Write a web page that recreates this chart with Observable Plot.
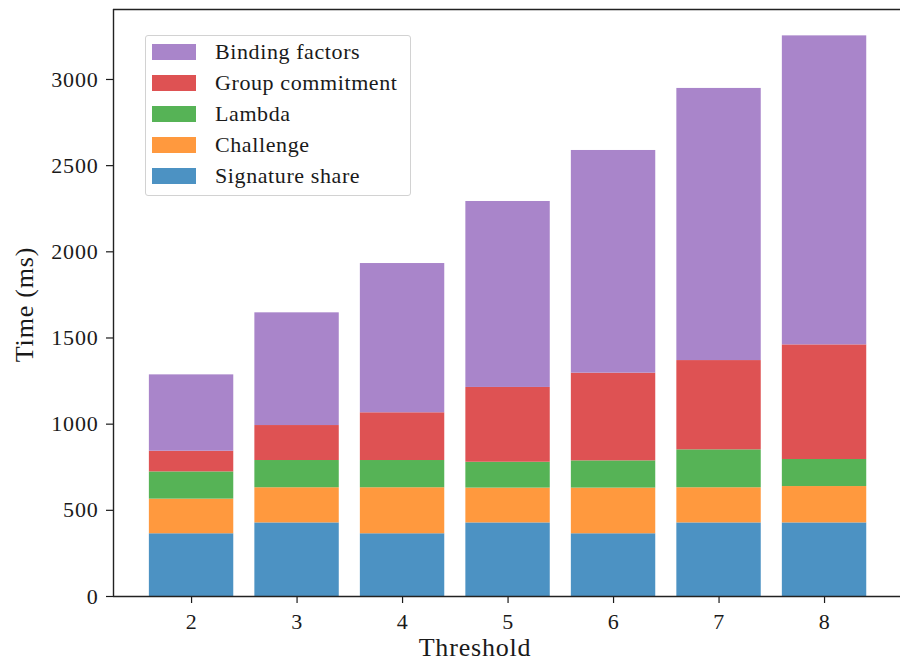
<!DOCTYPE html>
<html>
<head>
<meta charset="utf-8">
<script src="https://cdn.jsdelivr.net/npm/d3@7"></script>
<script src="https://cdn.jsdelivr.net/npm/@observablehq/plot@0.6"></script>
<style>
html, body { margin: 0; padding: 0; background: #fff; overflow: hidden; }
#wrap { position: relative; width: 900px; height: 661px; }
#wrap svg text { letter-spacing: 0.8px; }
.legend { position: absolute; left: 145px; top: 35px; width: 266px; height: 161px;
  border: 1px solid #d2d2d2; border-radius: 3px; background: rgba(255,255,255,0.8);
  box-sizing: border-box; font-family: "Liberation Serif", serif; font-size: 22px;
  letter-spacing: 0.6px; color: #1a1a1a; }
.item { position: absolute; left: 6px; height: 31px; display: flex; align-items: center; white-space: nowrap; }
.sw { width: 44px; height: 16px; margin-right: 19px; flex: none; }
</style>
</head>
<body>
<div id="wrap"></div>
<script>
const thresholds = [2, 3, 4, 5, 6, 7, 8];
const seriesNames = ["Signature share", "Challenge", "Lambda", "Group commitment", "Binding factors"];
const seriesColors = ["#4c92c3", "#ff993e", "#56b356", "#de5253", "#a985ca"];
const signatureShare = [364, 427, 364, 427, 364, 427, 427];
const challenge = [201, 204, 267, 202, 265, 204, 211];
const lambda = [158, 158, 158, 150, 158, 220, 157];
const groupCommitment = [120, 203, 277, 434, 509, 518, 665];
const bindingFactors = [443, 654, 866, 1079, 1292, 1579, 1793];
const yTicks = [0, 500, 1000, 1500, 2000, 2500, 3000];
const xTicks = thresholds;
const xLabel = "Threshold";
const yLabel = "Time (ms)";

const seriesValues = [signatureShare, challenge, lambda, groupCommitment, bindingFactors];

// build stacked rows
const rows = [];
thresholds.forEach((t, i) => {
  let base = 0;
  seriesNames.forEach((name, s) => {
    const v = seriesValues[s][i];
    rows.push({t, series: name, value: v, y1: base, y2: base + v});
    base += v;
  });
});

const yMax = 3406;
const xMin = 1.26, xMax = 8.72;

const chart = Plot.plot({
  width: 900,
  height: 661,
  marginLeft: 113,
  marginRight: 0,
  marginTop: 9,
  marginBottom: 65,
  style: {fontFamily: "'Liberation Serif', serif", fontSize: "22px", color: "#1a1a1a", background: "#fff", overflow: "visible"},
  x: {type: "linear", domain: [xMin, xMax]},
  y: {domain: [0, yMax]},
  color: {domain: seriesNames, range: seriesColors},
  marks: [
    Plot.rect(rows, {x1: d => d.t - 0.4, x2: d => d.t + 0.4, y1: "y1", y2: "y2", fill: "series"}),
    Plot.axisY({ticks: yTicks, tickSize: 7, tickPadding: 8, label: null, tickFormat: d => String(d), strokeWidth: 1.2}),
    Plot.axisX({ticks: xTicks, tickSize: 7, tickPadding: 10, label: null, tickFormat: d => String(d), strokeWidth: 1.2}),
    Plot.ruleY([0], {stroke: "#222", strokeWidth: 1.4}),
    Plot.ruleY([yMax], {stroke: "#222", strokeWidth: 1.4}),
    Plot.ruleX([xMin], {stroke: "#222", strokeWidth: 1.4}),
    Plot.text([xLabel], {text: d => d, frameAnchor: "bottom", textAnchor: "middle", lineAnchor: "middle", dx: -32, dy: 51, fontSize: 26, fill: "#1a1a1a"}),
    Plot.text([yLabel], {text: d => d, frameAnchor: "left", textAnchor: "middle", lineAnchor: "middle", rotate: -90, dx: -89, dy: 1.5, fontSize: 26, fill: "#1a1a1a"})
  ]
});

const wrap = document.getElementById("wrap");
wrap.appendChild(chart);

// legend (reverse order: top of stack first)
const legend = document.createElement("div");
legend.className = "legend";
const order = seriesNames.map((n, i) => i).reverse();
order.forEach((s, k) => {
  const item = document.createElement("div");
  item.className = "item";
  item.style.top = (0.5 + k * 31) + "px";
  const sw = document.createElement("span");
  sw.className = "sw";
  sw.style.background = seriesColors[s];
  const lab = document.createElement("span");
  lab.textContent = seriesNames[s];
  item.appendChild(sw);
  item.appendChild(lab);
  legend.appendChild(item);
});
wrap.appendChild(legend);
</script>
</body>
</html>
